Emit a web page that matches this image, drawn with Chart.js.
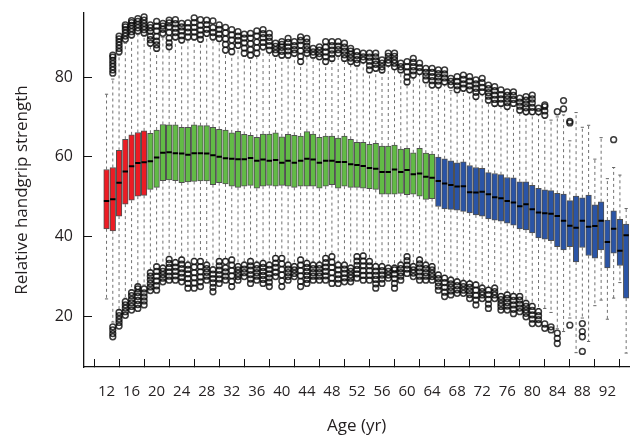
<!DOCTYPE html>
<html><head><meta charset="utf-8">
<script src="https://cdn.jsdelivr.net/npm/chart.js@4.4.1/dist/chart.umd.min.js"></script>
<style>html,body{margin:0;padding:0;background:#fff;}#wrap{width:634px;height:438px;position:relative;}</style>
</head><body><div id="wrap"><canvas id="c" width="634" height="438"></canvas></div>
<script>
// ---- data ----
const ages = [12,13,14,15,16,17,18,19,20,21,22,23,24,25,26,27,28,29,30,31,32,33,34,35,36,37,38,39,40,41,42,43,44,45,46,47,48,49,50,51,52,53,54,55,56,57,58,59,60,61,62,63,64,65,66,67,68,69,70,71,72,73,74,75,76,77,78,79,80,81,82,83,84,85,86,87,88,89,90,91,92,93,94,95];
const q3 = [56.8,57.3,61.6,64.4,65.5,66.1,66.5,65.9,66.7,68.1,68.0,68.0,67.4,67.4,68.0,67.8,67.8,67.4,66.9,66.7,66.0,66.4,65.6,65.4,64.9,65.7,65.7,66.0,65.0,65.6,65.4,65.2,66.3,65.7,64.9,65.2,65.2,64.7,65.2,64.4,63.6,63.6,63.1,63.4,62.7,62.7,62.9,61.9,62.1,61.0,62.1,60.9,60.7,59.9,59.5,59.0,58.5,58.7,57.8,57.3,57.1,56.0,55.8,55.5,54.8,54.7,53.7,53.7,52.8,52.1,51.7,51.5,50.8,50.6,49.0,50.1,49.7,50.4,47.9,48.7,44.1,46.4,44.3,43.1];
const median = [48.9,49.3,53.5,56.3,57.6,58.4,58.6,58.9,59.8,61.0,61.1,60.9,60.8,60.5,60.9,60.9,60.8,60.4,60.0,59.6,59.5,59.4,59.4,59.7,59.0,59.3,59.0,59.2,58.5,59.0,58.5,59.0,59.5,59.3,58.5,59.0,59.0,58.7,58.7,58.1,57.9,57.7,57.2,57.0,56.2,56.2,56.8,56.2,56.7,55.6,55.8,55.0,54.7,53.9,53.3,52.9,52.5,52.6,51.1,51.0,51.2,50.6,49.8,49.6,48.9,48.5,47.6,48.1,46.8,46.0,45.8,45.7,45.1,43.9,42.7,42.2,43.9,42.4,42.6,43.9,38.6,41.9,36.4,40.3];
const q1 = [41.9,41.4,45.1,48.1,49.1,50.1,50.3,51.8,52.3,54.0,54.2,54.0,53.5,53.7,53.8,53.9,53.9,53.0,53.5,53.2,52.6,52.3,52.6,52.8,52.1,52.6,52.8,52.6,52.8,52.6,52.3,52.6,52.6,52.6,52.1,52.6,53.0,52.1,52.6,52.3,52.3,52.1,52.0,51.8,50.6,50.6,50.6,50.8,50.5,50.6,50.1,49.3,49.5,47.5,46.9,46.8,46.6,46.3,45.9,45.4,45.1,44.4,44.1,43.8,43.3,42.8,41.9,41.6,40.9,39.6,39.3,38.9,37.4,36.6,37.4,33.6,37.2,35.2,34.5,36.6,32.1,35.8,32.7,24.5];
const whiskerHigh = [75.7,79.5,85.5,88.5,89.8,90.8,90.3,87.8,86.5,90.0,87.0,89.3,88.6,89.3,89.3,88.8,90.2,89.3,89.0,86.0,85.6,87.2,85.2,84.8,85.2,86.8,86.0,85.2,84.8,84.8,85.2,83.2,85.2,84.8,84.4,83.2,84.0,85.2,84.0,83.2,82.8,83.6,81.1,81.5,81.1,82.8,81.9,81.1,78.1,79.8,80.7,78.6,77.3,77.3,78.1,76.6,76.1,76.5,76.1,74.4,75.6,73.5,72.7,72.7,71.9,72.7,71.0,70.6,70.6,70.6,69.7,69.2,70.0,70.5,64.0,71.1,67.4,67.9,59.4,64.8,54.5,57.3,55.4,47.0];
const whiskerLow = [24.3,18.5,21.5,24.5,26.5,28.0,27.8,31.5,33.0,32.8,35.0,34.2,34.8,33.6,34.5,34.4,33.6,32.4,34.4,34.4,34.8,33.2,33.6,34.4,33.6,34.0,33.6,35.2,35.2,33.6,33.2,34.8,34.0,33.6,33.6,35.2,35.6,33.6,33.6,32.8,35.6,35.8,34.4,33.2,33.2,32.8,32.8,33.6,35.6,33.2,34.8,33.6,33.2,31.0,30.2,29.8,29.4,29.0,28.8,28.5,27.8,27.2,27.8,25.6,26.0,25.6,25.6,24.0,23.2,21.9,21.9,20.9,16.8,16.1,19.5,10.8,19.5,13.6,22.6,24.0,19.2,24.5,28.4,10.7];
const upperOutliers = [
 [],[81.0,81.8,82.6,83.4,84.2,85.0,85.5],[86.4,87.2,88.0,88.8,89.6,90.3],[89.5,90.3,91.1,91.9,92.6,93.1],[90.6,91.4,92.2,93.0,93.7,94.2],[91.6,92.4,93.2,94.0,94.7],[91.1,91.9,92.7,93.5,94.3,95.1],
 [88.5,89.4,90.3,91.5,92.4,93.1],[87.2,88.1,89.0,90.2,91.6,92.8,94.0],[91.0,92.0,92.8,93.5],[87.6,88.6,89.8,91.2,92.6,93.6,94.3],[90.1,91.2,92.3,93.4,94.4],[89.3,90.4,91.6,92.6,93.5],[90.1,91.3,92.4,93.6],
 [90.1,91.3,92.5,93.7,94.9],[89.5,90.6,91.8,93.0,94.4],[91.0,92.0,93.2,94.3],[90.1,91.2,92.4,94.1],[89.7,90.8,92.0,93.1],[86.8,88.2,89.6,91.1,92.5],[86.4,87.8,89.3,90.6,91.9],
 [88.0,89.2,90.3,91.4],[86.0,87.3,88.6,89.8,90.8],[85.5,86.9,88.4,89.8,91.0],[86.0,87.4,88.8,90.3,91.6],[87.6,88.7,89.9,90.9,91.9],[86.8,87.9,89.0,90.0,91.0],[86.0,86.9,87.7,88.5],
 [85.5,86.5,87.5,88.2,88.9],[85.5,86.6,87.6,88.7,89.7],[86.0,86.9,87.9,88.9],[83.9,85.2,86.6,88.0,89.2,90.1],[86.0,86.9,87.8,88.8,89.7],[85.5,86.3,87.2],[85.1,85.9,86.8,87.6],
 [83.9,85.1,86.3,87.5,88.9],[84.7,85.8,86.8,87.9,88.9],[86.0,86.9,87.8,88.9],[84.7,85.6,86.5,87.5,88.5],[83.9,84.8,85.7,86.5,87.2],[83.5,84.4,85.4,86.4],[84.3,85.1,86.0],
 [81.8,82.9,84.0,85.0,86.0],[82.2,83.2,84.1,85.1,86.0],[81.8,82.6,83.5,84.3],[83.5,84.3,85.2,86.0],[82.6,83.5,84.3,85.2,86.0],[81.8,82.6,83.5],[78.8,80.0,81.3,82.6,83.9],
 [80.5,81.6,82.6,83.7,84.7],[81.4,82.4,83.5],[79.3,80.3,81.2,82.2],[78.0,79.1,80.1,81.2,82.2],[78.0,79.0,80.0,80.9,81.8],[78.8,79.8,80.8,81.8],[78.0,78.9,79.7],
 [76.8,77.8,78.9,80.1],[77.2,78.3,79.4,80.5],[76.8,77.8,79.0,80.1],[75.1,76.2,77.2,78.3,79.3],[76.3,77.4,78.6,79.7],[74.2,75.2,76.1,77.1,78.0],[73.4,74.4,75.5,76.6,77.6],
 [73.4,74.5,75.6,76.8],[72.6,73.6,74.5,75.4,76.3],[73.4,74.4,75.4,76.3],[71.7,72.7,73.7,74.7],[71.3,72.3,73.3,74.2,75.1],[71.3,72.4,73.5,74.5,75.5],[71.3,72.2],
 [70.4,71.5,72.6,73.0],[],[71.3],[72.0,74.1],[68.5,68.9],[],[],[],[],[],[],[64.3],[],[]
];
const lowerOutliers = [
 [],[14.8,15.6,16.5,17.3],[17.5,18.4,19.2,20.1,20.9],[20.2,21.1,22.0,22.8,23.6],[21.5,22.4,23.3,24.2,25.1,25.9],[21.9,22.9,23.9,24.9,25.9,26.8,27.4],[22.8,23.8,24.8,25.8,26.8],
 [26.4,27.3,28.2,29.1,30.0,30.9],[26.5,27.6,28.8,30.0,31.2,32.4],[28.6,29.5,30.4,31.2,32.0],[29.0,30.0,31.1,32.2,33.2,34.2],[29.0,30.1,31.2,32.3,33.4],[28.6,29.7,30.8,31.9,33.0,34.1],[27.0,28.2,29.4,30.6,31.7,32.8],
 [27.0,28.3,29.6,30.9,32.3,33.7],[27.4,28.6,29.8,31.1,32.4,33.7],[29.0,30.0,31.0,31.9,32.8],[26.1,27.2,28.3,29.4,30.5,31.6],[28.2,29.3,30.4,31.5,32.6,33.7],[29.0,30.0,31.1,32.1,33.7],[27.4,28.7,30.1,31.4,32.8,34.1],
 [29.0,29.9,30.7,31.6,32.4],[29.9,30.9,31.8,32.8],[28.2,29.3,30.4,31.5,32.6,33.7],[29.0,30.0,30.9,31.9,32.8],[28.2,29.2,30.2,31.2,32.2,33.2],[27.4,28.5,29.6,30.6,31.7,32.8],[29.9,31.0,32.2,33.3,34.5],
 [27.4,28.8,30.3,31.7,33.1,34.5],[29.0,29.9,30.9,31.8,32.8],[29.9,30.7,31.6,32.4],[27.4,28.7,30.1,31.4,32.8,34.1],[28.2,29.2,30.2,31.2,32.2,33.2],[29.0,30.0,30.9,31.9,32.8],[29.0,30.0,30.9,31.9,32.8],
 [29.0,30.1,31.2,32.3,33.4,34.5],[28.2,29.5,30.9,32.2,33.5,34.9],[28.2,29.3,30.4,31.6,32.8],[28.6,29.6,30.7,31.8,32.8],[28.6,29.5,30.3,31.2,32.0],[29.5,30.6,31.7,32.7,33.8,34.9],[29.0,30.2,31.4,32.6,33.8,35.1],
 [29.0,30.2,31.4,32.6,33.7],[27.0,28.1,29.2,30.2,31.3,32.4],[28.2,29.3,30.3,31.4,32.4],[29.5,30.3,31.2,32.0],[27.0,28.2,29.4,30.5,31.6,32.0],[29.0,30.0,30.9,31.9,32.8],[30.7,31.8,32.8,33.9,34.9],
 [29.9,30.8,31.6,32.4],[29.0,30.0,31.1,32.1,33.1,34.1],[29.0,30.0,30.9,31.9,32.8],[29.0,29.9,30.7,31.6,32.4],[26.5,27.5,28.4,29.4,30.3],[24.9,26.0,27.2,28.4,29.5],[25.3,26.3,27.2,28.1,29.0],
 [25.7,26.6,27.6,28.6],[25.7,26.5,27.4,28.2],[24.4,25.4,26.3,27.2,28.1],[22.8,24.0,25.2,26.5,27.8],[24.4,25.3,26.1,27.0],[21.9,23.0,24.2,25.4,26.5],[24.4,25.3,26.1,27.0],
 [21.5,22.4,23.2,24.1,24.9],[21.5,22.5,23.4,24.4,25.3],[20.6,21.7,22.8,23.9,24.9],[21.1,22.0,23.0,24.0,24.9],[19.8,20.7,21.5,22.4,23.2],[18.1,19.2,20.3,21.4,22.4],[18.1,19.1,20.1,21.1],
 [16.9,18.0],[16.5,17.3],[13.1,14.4,15.7],[],[17.7],[],[11.1,14.8,16.1,18.1],[],[],[],[],[],[],[]
];
const xTickLabels = [12,16,20,24,28,32,36,40,44,48,52,56,60,64,68,72,76,80,84,88,92];
const yTickLabels = [20,40,60,80];
const lastRedAge = 18, lastGreenAge = 64;

// ---- styles ----
const RED = '#ec1c24', GREEN = '#62bb46', BLUE = '#2a54a6';
const FONT = "'Open Sans', 'DejaVu Sans', sans-serif";
const TEXT = '#231f20';

const boxData = ages.map((a, i) => ({x: a, y: [q1[i], q3[i]]}));
const boxColors = ages.map(a => a <= lastRedAge ? RED : (a <= lastGreenAge ? GREEN : BLUE));
const medianData = ages.map((a, i) => ({x: a, y: median[i]}));
const whiskerData = [];
ages.forEach((a, i) => {
  whiskerData.push({x: a, y: q3[i]}, {x: a, y: whiskerHigh[i]}, {x: a, y: null});
  whiskerData.push({x: a, y: q1[i]}, {x: a, y: whiskerLow[i]}, {x: a, y: null});
});
const capData = [];
ages.forEach((a, i) => { capData.push({x: a, y: whiskerHigh[i]}, {x: a, y: whiskerLow[i]}); });
const outlierData = [];
ages.forEach((a, i) => {
  upperOutliers[i].forEach(v => outlierData.push({x: a, y: v}));
  lowerOutliers[i].forEach(v => outlierData.push({x: a, y: v}));
});

function axisCommon() {
  return {
    grid: {drawOnChartArea: false, drawTicks: true, tickLength: -8, tickColor: '#111', tickWidth: 1},
    border: {display: true, color: '#111', width: 1.3},
  };
}

new Chart(document.getElementById('c'), {
  type: 'bar',
  data: {
    datasets: [
      {type: 'scatter', data: medianData, pointStyle: 'line', pointRadius: 2.7, pointHoverRadius: 2.7,
       borderColor: '#000', pointBorderColor: '#000', pointBorderWidth: 2, borderWidth: 2, order: 0},
      {type: 'bar', data: boxData, backgroundColor: boxColors, borderColor: '#505050', borderWidth: 1,
       borderSkipped: false, barThickness: 5.6, order: 1},
      {type: 'scatter', data: outlierData, pointStyle: 'circle', pointRadius: 2.9, pointHoverRadius: 2.9,
       backgroundColor: 'rgba(255,255,255,0)', pointBackgroundColor: 'rgba(255,255,255,0)',
       borderColor: 'rgba(10,10,10,0.8)', pointBorderColor: 'rgba(10,10,10,0.8)', pointBorderWidth: 1.5, order: 2},
      {type: 'scatter', data: capData, pointStyle: 'line', pointRadius: 1.6, pointHoverRadius: 1.6,
       borderColor: '#666', pointBorderColor: '#666', pointBorderWidth: 1, order: 3},
      {type: 'line', data: whiskerData, borderColor: '#707070', borderWidth: 1, borderDash: [3, 3],
       pointRadius: 0, spanGaps: false, tension: 0, fill: false, order: 4}
    ]
  },
  options: {
    responsive: false, animation: false, devicePixelRatio: 1,
    layout: {padding: {top: 13, left: 0, right: 0, bottom: 0}},
    plugins: {legend: {display: false}, tooltip: {enabled: false}},
    scales: {
      x: Object.assign(axisCommon(), {
        type: 'linear', position: 'bottom', min: 8.4, max: 95.5, offset: false,
        ticks: {autoSkip: false, maxRotation: 0, padding: 24, color: TEXT, font: {family: FONT, size: 15}},
        afterBuildTicks: s => { s.ticks = xTickLabels.map(v => ({value: v})); },
        afterFit: s => { s.height = 71; s.paddingLeft = 0; s.paddingRight = 0; },
        title: {display: true, text: 'Age (yr)', color: TEXT, font: {family: FONT, size: 17}, padding: {top: 0, bottom: 2}}
      }),
      y: Object.assign(axisCommon(), {
        type: 'linear', position: 'left', min: 7.2, max: 96.1,
        ticks: {padding: 19, color: TEXT, font: {family: FONT, size: 16}},
        afterBuildTicks: s => { s.ticks = yTickLabels.map(v => ({value: v})); },
        afterFit: s => { s.width = 84; s.paddingTop = 0; s.paddingBottom = 0; },
        title: {display: true, text: 'Relative handgrip strength', color: TEXT, font: {family: FONT, size: 17}, padding: {top: 12, bottom: 0}}
      })
    }
  }
});
</script></body></html>
